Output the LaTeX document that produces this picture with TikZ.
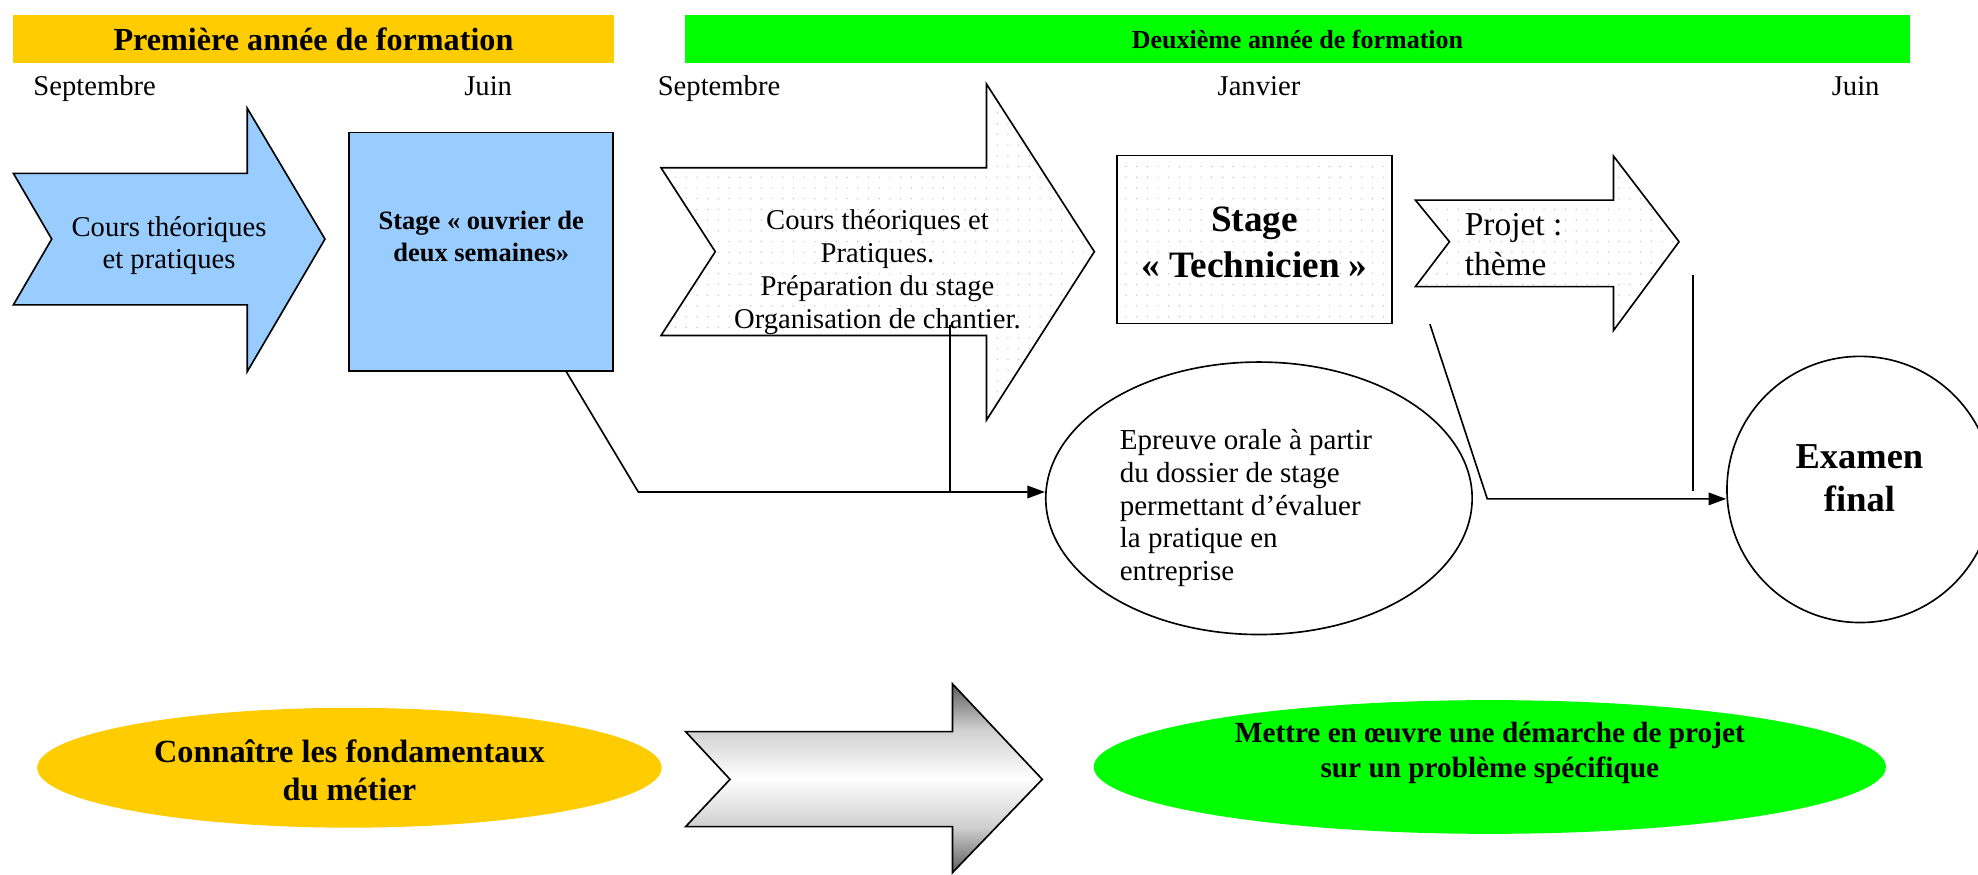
\documentclass[tikz,border=0pt]{standalone}
\usepackage{fontspec}
\setmainfont{Liberation Serif}
\usetikzlibrary{arrows.meta,patterns.meta,calc,shapes.geometric}
\definecolor{ylw}{HTML}{FFCC00}
\definecolor{grn}{HTML}{00FF00}
\definecolor{lblue}{HTML}{99CCFF}
\definecolor{dotblue}{HTML}{A8BCF0}
\definecolor{gdark}{HTML}{5E5E5E}
\definecolor{glight}{HTML}{CFCFCF}
\pgfdeclareverticalshading{arrowgray}{100bp}{color(0bp)=(gdark); color(25bp)=(gdark); color(37bp)=(glight); color(50bp)=(white); color(63bp)=(glight); color(75bp)=(gdark); color(100bp)=(gdark)}
\newcommand\fsz[2]{\fontsize{#1}{#2}\selectfont}
\tikzset{
  outline/.style={draw=black, line width=1.3pt, line join=miter},
  dotted fill/.style={preaction={fill=white}, pattern={Dots[distance=8.5pt,radius=0.55pt]}, pattern color=dotblue},
  txt/.style={inner sep=0pt, text=black},
  month/.style={txt, anchor=base, font=\fsz{22.7}{26}},
  conn/.style={draw=black, line width=1.3pt, line join=miter},
  tip/.style={-{Triangle[length=14pt,width=10pt]}}
}
\begin{document}
\begin{tikzpicture}[x=1pt,y=-1pt]
\useasboundingbox (0,0) rectangle (1568,693);
\clip (0,0) rectangle (1568,693);
\fill[white] (0,0) rectangle (1568,693);

% headers
\node[fill=ylw, minimum width=477pt, minimum height=38pt, inner sep=0pt, font=\bfseries\fsz{25.5}{30}] (h1) at (248.5,31) {Première année de formation};
\node[fill=grn, minimum width=971pt, minimum height=38pt, inner sep=0pt, font=\bfseries\fsz{20.6}{24}] (h2) at (1028.5,31) {Deuxième année de formation};

% months
\node[month] (m1) at (75,76) {Septembre};
\node[month] (m2) at (387,76) {Juin};
\node[month] (m3) at (570,76) {Septembre};
\node[month] (m4) at (998,76) {Janvier};
\node[month] (m5) at (1471,76) {Juin};

% arrow 1
\path[outline, fill=lblue] (10.6,137.4) -- (41,189.5) -- (10.6,241.7) -- (196,241.7) -- (196,294.6) -- (257.6,189.5) -- (196,85.8) -- (196,137.4) -- cycle;
\node[txt, anchor=base, align=center, font=\fsz{22.7}{25.1}] (a1t) at (134,212.6) {Cours théoriques\\et pratiques};

% box 2
\node[outline, fill=lblue, minimum width=209.5pt, minimum height=189pt, inner sep=0pt] (b2) at (381.4,199.4) {};
\node[txt, anchor=base, align=center, font=\bfseries\fsz{21}{25}] (b2t) at (381.5,207.3) {Stage « ouvrier de\\deux semaines»};

% arrow 3
\path[outline, dotted fill] (524,133) -- (567,199.5) -- (524,266) -- (782,266) -- (782,333) -- (867.5,199.5) -- (782,66.6) -- (782,133) -- cycle;
\node[txt, anchor=base, align=center, font=\fsz{22.7}{26}] (a3t) at (695.6,260.3) {Cours théoriques et\\Pratiques.\\Préparation du stage\\Organisation de chantier.};

% technicien
\node[outline, dotted fill, minimum width=218pt, minimum height=133pt, inner sep=0pt] (tech) at (994.7,189.9) {};
\node[txt, anchor=base, align=center, font=\bfseries\fsz{29.5}{36}] (techt) at (994.5,219.7) {Stage\\« Technicien »};

% projet arrow
\path[outline, dotted fill] (1122,158.6) -- (1149,191.6) -- (1122,227.2) -- (1279,227.2) -- (1279,262) -- (1331,191.6) -- (1279,123.7) -- (1279,158.6) -- cycle;
\node[txt, anchor=base west, align=left, font=\fsz{26.5}{31}] (pt) at (1161,218) {Projet :\\thème};

% epreuve ellipse
\node[outline, ellipse, fill=white, minimum width=338pt, minimum height=216pt, inner sep=0pt] (ep) at (998,395) {};
\node[txt, anchor=base west, align=left, font=\fsz{23}{25.8}] (ept) at (887.5,459.9) {Epreuve orale à partir\\du dossier de stage\\permettant d’évaluer\\la pratique en\\entreprise};

% examen circle
\node[outline, circle, fill=white, minimum size=211pt, inner sep=0pt] (ex) at (1474.5,388) {};
\node[txt, anchor=base, align=center, font=\bfseries\fsz{28.9}{34.6}] (ext) at (1474,405.6) {Examen\\final};

% connectors
\coordinate (j1) at (0,390);
\coordinate (j2) at (0,395.5);
\draw[conn, tip] ($(b2.south west)!0.82!(b2.south east)$) -- (506,390) -- (ep.west |- j1);
\coordinate (a3bot) at (753,257.6);
\draw[conn] (a3bot) -- (a3bot |- j1);
\coordinate (t1) at (1133.5,257);
\draw[conn, tip] (t1) -- (1179,395.5) -- (ex.west |- j2);
\coordinate (v1) at (1342,218);
\coordinate (v2) at (1342,389);
\draw[conn] (v1) -- (v2);

% bottom row
\node[ellipse, fill=ylw, minimum width=495pt, minimum height=95pt, inner sep=0pt] (g1) at (277,608.6) {};
\node[txt, anchor=base, align=center, font=\bfseries\fsz{25.6}{29.6}] (g1t) at (277,634.2) {Connaître les fondamentaux\\du métier};

\shadedraw[shading=arrowgray, line width=1.3pt, line join=miter] (543.5,580) -- (578.7,617.8) -- (543.5,655.3) -- (755.1,655.3) -- (755.1,691.7) -- (826.2,617.8) -- (755.1,542.2) -- (755.1,580) -- cycle;

\node[ellipse, fill=grn, minimum width=628pt, minimum height=106pt, inner sep=0pt] (g2) at (1181,608) {};
\node[txt, anchor=base, align=center, font=\bfseries\fsz{23.2}{27.4}] (g2t) at (1181,616.1) {Mettre en œuvre une démarche de projet\\sur un problème spécifique};
\end{tikzpicture}
\end{document}
